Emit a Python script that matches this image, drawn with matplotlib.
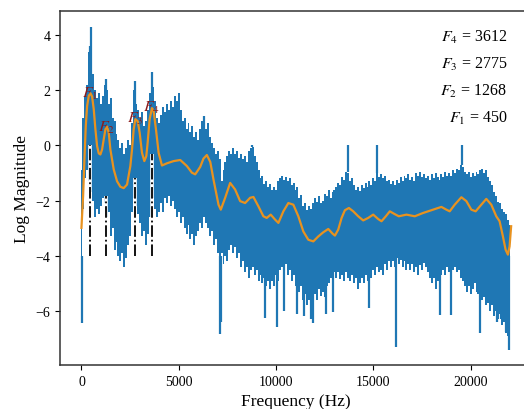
import matplotlib
matplotlib.use('Agg')
import matplotlib.pyplot as plt
import numpy as np

plt.rcParams['font.family'] = ['Liberation Serif', 'DejaVu Serif']
plt.rcParams['mathtext.fontset'] = 'stix'

# band of the noisy spectrum, read every 100 Hz (upper and lower edge)
freq = np.arange(0, 22001, 100)
spec_top = [
    -0.9, 1.0, 1.8, 2.2, 3.4, 4.0, 2.6, 2.0, 1.7, 1.9, 1.5, 1.8, 2.2, 2.0, 1.5, 1.7, 1.0, 0.9, 0.4, 0.2,
    -0.1, 0.1, -0.3, -0.1, 0.2, 0.0, 0.8, 2.0, 1.5, 1.3, 1.0, 1.2, 0.7, 0.9, 1.3, 1.9, 2.3, 2.1, 1.6, 1.0,
    0.8, 1.1, 1.4, 1.2, 1.5, 1.3, 1.6, 1.4, 1.8, 1.6, 1.9, 1.3, 0.9, 1.0, 0.6, 0.8, 0.5, 0.7, 0.3, 0.5,
    0.2, 0.6, 0.9, 1.0, 0.6, 0.8, 0.3, 0.1, -0.1, -0.3, -0.2, -0.5, -1.3, -0.9, -0.6, -0.4, -0.2, -0.3, -0.1, -0.3,
    -0.2, -0.45, -0.3, -0.5, -0.4, -0.6, -0.2, -0.1, -0.05, -0.4, -0.6, -0.9, -1.2, -1.1, -1.4, -1.3, -1.5, -1.4, -1.6, -1.5,
    -1.6, -1.3, -1.2, -1.1, -1.25, -1.15, -1.3, -1.2, -1.45, -1.35, -1.6, -1.5, -1.9, -1.8, -2.2, -2.1, -2.35, -2.2, -2.3, -2.1,
    -1.9, -2.05, -1.85, -2.1, -2.0, -1.75, -1.85, -1.6, -1.9, -1.7, -1.6, -1.5, -1.35, -1.45, -1.15, -1.25, -0.95, -1.0, -1.3, -1.2,
    -1.45, -1.6, -1.5, -1.65, -1.45, -1.55, -1.35, -1.5, -1.3, -1.45, -1.2, -1.3, -1.0, -1.15, -1.05, -1.2, -1.1, -1.3, -1.25, -1.4,
    -1.3, -1.45, -1.25, -1.35, -1.15, -1.3, -1.1, -1.2, -1.05, -1.25, -1.15, -1.3, -1.0, -1.1, -0.95, -1.15, -1.05, -1.2, -1.1, -1.25,
    -1.05, -1.2, -1.0, -1.15, -1.25, -1.05, -1.15, -0.95, -1.1, -1.0, -1.1, -0.9, -1.0, -0.85, -0.9, -0.7, -0.8, -0.95, -1.05, -0.95,
    -1.15, -1.0, -1.1, -0.95, -1.05, -0.9, -0.85, -1.0, -0.9, -1.15, -1.3, -1.45, -1.7, -1.85, -2.05, -2.1, -2.3, -2.4, -2.5, -2.7,
    -2.9]
spec_bot = [
    -4.0, -2.3, -1.2, -0.9, -1.3, -1.7, -2.0, -2.6, -2.3, -2.5, -2.2, -1.9, -2.1, -2.6, -2.4, -3.3, -3.0, -3.8, -3.5, -4.0,
    -4.2, -3.9, -4.4, -4.1, -3.6, -3.3, -2.4, -1.9, -2.2, -2.5, -2.8, -3.3, -3.1, -3.6, -3.2, -2.6, -2.2, -1.9, -2.3, -2.6,
    -2.4, -2.1, -2.4, -1.9, -2.1, -1.85, -2.2, -2.0, -2.3, -2.6, -2.4, -2.8, -2.6, -3.0, -3.2, -2.9, -3.4, -3.2, -3.6, -3.3,
    -3.1, -2.8, -3.0, -2.6, -2.8, -3.0, -3.3, -3.1, -3.6, -3.4, -3.9, -4.2, -3.9, -4.3, -4.0, -4.2, -3.8, -3.6, -3.9, -3.7,
    -4.1, -3.9, -4.4, -4.2, -4.6, -4.4, -4.8, -4.5, -4.4, -4.7, -4.5, -4.9, -4.7, -5.0, -4.8, -5.1, -4.9, -5.2, -4.9, -5.1,
    -4.7, -4.9, -4.5, -4.4, -4.6, -4.3, -4.7, -4.5, -4.9, -4.7, -5.1, -4.9, -5.3, -5.1, -5.6, -5.4, -5.8, -5.6, -6.0, -5.7,
    -5.4, -5.6, -5.2, -5.45, -5.3, -5.5, -5.1, -5.0, -4.8, -5.0, -4.6, -4.8, -4.6, -4.85, -4.7, -4.9, -4.6, -4.8, -4.9, -4.7,
    -5.0, -4.8, -5.2, -5.0, -4.8, -5.0, -4.7, -4.9, -4.6, -4.8, -4.5, -4.7, -4.4, -4.6, -4.5, -4.7, -4.3, -4.5, -4.2, -4.4,
    -4.2, -4.4, -4.1, -4.3, -4.15, -4.4, -4.2, -4.5, -4.3, -4.5, -4.3, -4.6, -4.4, -4.7, -4.35, -4.5, -4.25, -4.4, -4.6, -4.8,
    -5.0, -4.8, -5.2, -4.9, -5.1, -4.7, -4.5, -4.7, -4.4, -4.6, -4.8, -4.5, -4.4, -4.6, -4.5, -4.8, -4.9, -5.1, -5.3, -5.1,
    -5.4, -5.2, -5.0, -5.3, -5.4, -5.2, -5.6, -5.5, -5.8, -5.7, -6.0, -5.8, -6.2, -6.0, -6.3, -6.1, -6.5, -6.4, -6.8, -6.9,
    -7.3]

# single deep / tall spikes
spike_dn_f = [50, 7100, 7160, 9440, 10030, 10420, 11080, 11440, 11800, 11900,
              12560, 12920, 14760, 16150, 18400, 18970, 20460, 21330, 21550, 21800, 21950]
spike_dn_y = [-6.45, -6.85, -6.4, -6.27, -6.6, -6.0, -6.1, -6.2, -6.3, -6.45,
              -6.1, -6.05, -5.9, -7.3, -6.15, -6.15, -6.8, -6.4, -6.3, -6.75, -7.42]
spike_up_f = [420, 480, 1250, 2760, 3640, 6300, 8750, 13700, 15200, 19560]
spike_up_y = [3.6, 4.3, 2.4, 2.35, 2.65, 1.05, -0.05, -0.95, -1.0, -0.7]

# smooth envelope
env_f = [0, 85, 154, 222, 291, 376, 462, 547, 632, 718, 803, 889, 974, 1060,
         1145, 1231, 1316, 1402, 1487, 1658, 1829, 2000, 2171, 2342, 2513, 2598,
         2684, 2769, 2889, 2991, 3111, 3231, 3333, 3402, 3504, 3624, 3709, 3829,
         3966, 4137, 4393, 4735, 5077, 5419, 5675, 5846, 6103, 6270, 6444, 6620,
         6786, 7043, 7160, 7385, 7641, 7897, 8154, 8410, 8667, 8838, 9094, 9350,
         9521, 9726, 9949, 10120, 10376, 10632, 10889, 11145, 11402, 11658, 11915,
         12171, 12427, 12684, 12906, 13026, 13197, 13368, 13538, 13744, 13966,
         14222, 14478, 14735, 14991, 15248, 15419, 15641, 15846, 16068, 16308,
         16701, 17128, 17556, 18068, 18497, 18752, 18923, 19180, 19523, 19779,
         20034, 20256, 20547, 20804, 21060, 21316, 21487, 21658, 21795, 21914,
         22000, 22080]
env_y = [-2.99, -1.84, -0.51, 0.70, 1.43, 1.79, 1.89, 1.77, 1.31, 0.58, -0.02, -0.29, -0.33, -0.15,
         0.22, 0.58, 0.68, 0.46, -0.15, -0.87, -1.30, -1.50, -1.55, -1.42, -0.75, -0.15,
         0.58, 0.95, 0.88, 0.46, -0.27, -0.57, -0.39, 0.10, 0.95, 1.35, 1.25, 0.58,
         -0.27, -0.73, -0.65, -0.57, -0.53, -0.75, -0.99, -1.05, -0.78, -0.48, -0.35, -0.6,
         -1.24, -2.15, -2.33, -1.90, -1.36, -1.60, -2.02, -2.09, -1.90, -1.87, -2.21, -2.57,
         -2.63, -2.51, -2.69, -2.81, -2.39, -2.09, -2.15, -2.57, -3.12, -3.42, -3.48,
         -3.30, -3.15, -3.03, -3.20, -3.27, -3.05, -2.63, -2.35, -2.27, -2.39,
         -2.57, -2.72, -2.63, -2.51, -2.67, -2.75, -2.57, -2.39, -2.48, -2.57,
         -2.51, -2.57, -2.45, -2.33, -2.23, -2.33, -2.39, -2.15, -1.88, -2.02,
         -2.33, -2.39, -2.15, -1.94, -2.15, -2.57, -2.75, -3.30, -3.78, -3.96,
         -3.66, -2.93]

# formants
formant_names = ['$F_1$', '$F_2$', '$F_3$', '$F_4$']
formant_f = [450, 1268, 2775, 3612]
formant_amp = [1.9, 0.68, 1.0, 1.4]
formant_line_top = [0.0, -1.85, -1.2, -0.33]
formant_line_bot = -4.0

blue = '#1f77b4'
orange = '#e8921f'

fig = plt.figure(figsize=(5.24, 4.10), dpi=100)
ax = fig.add_axes([60/524, 44/410, 472/524, 354/410])

ax.fill_between(freq, spec_bot, spec_top, step='mid', color=blue, lw=0)
ax.vlines(spike_dn_f, -4.0, spike_dn_y, color=blue, lw=1.6)
ax.vlines(spike_up_f, 0.0, spike_up_y, color=blue, lw=1.6)

ax.vlines(formant_f, formant_line_bot, formant_line_top, color='white', lw=2.6, zorder=3)
ax.vlines(formant_f, formant_line_bot, formant_line_top, color='black', lw=1.3,
          linestyles='-.', zorder=4)

ax.plot(env_f, env_y, color=orange, lw=1.6, zorder=5)

for name, f, a in zip(formant_names, formant_f, formant_amp):
    ax.text(f, a, name, color='#8b1c1c', fontsize=11.5, ha='center', va='center', zorder=6)

ax.set_xlim(-1102, 23152)
ax.set_ylim(-7.96, 4.87)
ax.set_xticks([0, 5000, 10000, 15000, 20000])
ax.set_yticks([-6, -4, -2, 0, 2, 4])
ax.tick_params(labelsize=10)
ax.set_xlabel('Frequency (Hz)', fontsize=12.5)
ax.set_ylabel('Log Magnitude', fontsize=12.5)
for s in ax.spines.values():
    s.set_color('#333333')
    s.set_linewidth(1.1)

# formant values, upper right
for i, (name, f) in enumerate(zip(formant_names[::-1], formant_f[::-1])):
    fig.text(507/524, 1 - (37 + 27.3*i)/410, name + ' = ' + str(f),
             ha='right', va='center', fontsize=11.5)

fig.savefig('out.png', dpi=100)
